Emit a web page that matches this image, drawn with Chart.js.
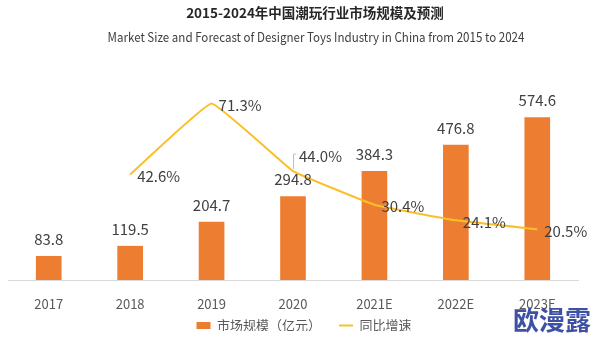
<!DOCTYPE html>
<html>
<head>
<meta charset="utf-8">
<script src="https://cdn.jsdelivr.net/npm/chart.js@4"></script>
<style>
  html, body { margin: 0; padding: 0; background: #fff; }
  #wrap { width: 594px; height: 340px; position: relative; }
</style>
</head>
<body>
<div id="wrap"><canvas id="myChart"></canvas></div>
<script>
var years = ['2017', '2018', '2019', '2020', '2021E', '2022E', '2023E'];
var marketSize = [83.8, 119.5, 204.7, 294.8, 384.3, 476.8, 574.6];
var growthRate = [null, 42.6, 71.3, 44.0, 30.4, 24.1, 20.5];

var FONT = '"Noto Sans CJK SC", "Noto Sans", sans-serif';

// titles, value labels and watermark
var extras = {
  id: 'extras',
  beforeInit: function(chart) {
    var fit = chart.legend.fit;
    chart.legend.fit = function() {
      fit.call(this);
      this.height = 30;
    };
  },
  afterLayout: function(chart) {
    var lg = chart.legend;
    var h = lg.bottom - lg.top;
    lg.top = 301;
    lg.bottom = 301 + h;
    lg.left += 11;
    lg.right += 11;
  },
  afterDatasetsDraw: function(chart) {
    var ctx = chart.ctx;
    ctx.save();
    ctx.fillStyle = '#404040';
    ctx.font = '15px ' + FONT;
    ctx.textAlign = 'center';
    ctx.textBaseline = 'middle';
    chart.getDatasetMeta(0).data.forEach(function(bar, i) {
      ctx.fillText(marketSize[i].toFixed(1), bar.x, bar.y - 17);
    });
    ctx.textAlign = 'left';
    chart.getDatasetMeta(1).data.forEach(function(pt, i) {
      if (growthRate[i] === null) return;
      var txt = growthRate[i].toFixed(1) + '%';
      if (i === 3) {
        // leader line for the 44.0% label
        ctx.strokeStyle = '#bfbfbf';
        ctx.lineWidth = 1;
        ctx.beginPath();
        ctx.moveTo(pt.x + 0.5, pt.y - 2);
        ctx.lineTo(pt.x + 0.5, pt.y - 17);
        ctx.lineTo(pt.x + 3, pt.y - 17);
        ctx.stroke();
        ctx.fillText(txt, pt.x + 6, pt.y - 15);
      } else {
        ctx.fillText(txt, pt.x + 7, pt.y + 2);
      }
    });
    ctx.restore();
  },
  afterDraw: function(chart) {
    var ctx = chart.ctx;
    ctx.save();
    ctx.textAlign = 'center';
    ctx.textBaseline = 'middle';
    ctx.fillStyle = '#262626';
    ctx.font = 'bold 13.5px ' + FONT;
    ctx.fillText('2015-2024年中国潮玩行业市场规模及预测', 315, 13);
    // subtitle in a condensed look
    ctx.fillStyle = '#404040';
    ctx.font = '13px ' + FONT;
    ctx.translate(316, 37);
    ctx.scale(0.89, 1);
    ctx.fillText('Market Size and Forecast of Designer Toys Industry in China from 2015 to 2024', 0, 0);
    ctx.setTransform(1, 0, 0, 1, 0, 0);
    ctx.fillStyle = '#3f51a5';
    ctx.font = 'bold 26px ' + FONT;
    ctx.textAlign = 'right';
    ctx.fillText('欧漫露', 591, 320);
    ctx.restore();
  }
};

var ctx = document.getElementById('myChart').getContext('2d');
var myChart = new Chart(ctx, {
  type: 'bar',
  data: {
    labels: years,
    datasets: [{
      type: 'bar',
      label: '市场规模（亿元）',
      data: marketSize,
      backgroundColor: '#ed7d31',
      barThickness: 25,
      yAxisID: 'y',
      order: 1
    }, {
      type: 'line',
      label: '同比增速',
      data: growthRate,
      borderColor: '#fbbf2a',
      backgroundColor: '#fbbf2a',
      borderWidth: 2,
      pointRadius: 0,
      tension: 0.08,
      yAxisID: 'y1',
      order: 0
    }]
  },
  options: {
    responsive: true,
    maintainAspectRatio: false,
    animation: false,
    layout: { padding: { top: 82, left: 8, right: 16, bottom: 0 } },
    plugins: {
      legend: {
        position: 'bottom',
        labels: {
          font: { family: FONT, size: 13 },
          color: '#595959',
          usePointStyle: true,
          pointStyleWidth: 14,
          boxHeight: 7,
          padding: 18,
          generateLabels: function(chart) {
            return [
              { text: '市场规模（亿元）', fillStyle: '#ed7d31', strokeStyle: '#ed7d31', lineWidth: 0, pointStyle: 'rect', datasetIndex: 0, fontColor: '#595959' },
              { text: '同比增速', fillStyle: '#fbbf2a', strokeStyle: '#fbbf2a', lineWidth: 2, pointStyle: 'line', datasetIndex: 1, fontColor: '#595959' }
            ];
          }
        }
      },
      tooltip: { enabled: false }
    },
    scales: {
      x: {
        grid: { display: false },
        border: { color: '#d9d9d9' },
        ticks: { font: { family: FONT, size: 13 }, color: '#595959', padding: 8 },
        afterFit: function(scale) { scale.height = 30; }
      },
      y: { display: false, min: 0, max: 700 },
      y1: { display: false, min: 0, max: 80, position: 'right' }
    }
  },
  plugins: [extras]
});
</script>
</body>
</html>
